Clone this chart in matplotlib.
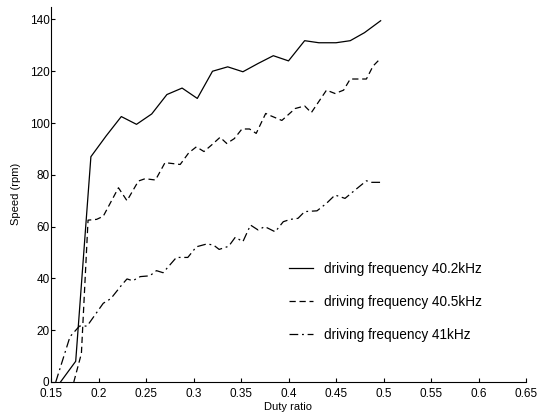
import matplotlib
matplotlib.use("Agg")
import matplotlib.pyplot as plt

plt.rcParams["font.family"] = ["Liberation Sans", "DejaVu Sans"]

# 40.2 kHz
duty_402 = [0.16, 0.176, 0.192, 0.208, 0.224, 0.24, 0.256, 0.272, 0.288, 0.304, 0.32,
            0.336, 0.352, 0.368, 0.384, 0.40, 0.417, 0.432, 0.45, 0.465, 0.48, 0.497]
speed_402 = [0, 8, 87, 95, 102.5, 99.5, 103.5, 111, 113.5, 109.5, 120,
             121.7, 119.8, 123, 126, 124, 131.8, 131, 131, 131.8, 134.9, 139.5]

# 40.5 kHz
duty_405 = [0.174, 0.182, 0.189, 0.198, 0.205, 0.221, 0.23, 0.242, 0.249, 0.26, 0.27,
            0.286, 0.295, 0.303, 0.311, 0.319, 0.328, 0.335, 0.343, 0.351, 0.359, 0.366,
            0.376, 0.38, 0.393, 0.407, 0.417, 0.424, 0.44, 0.449, 0.458, 0.465, 0.482,
            0.489, 0.497]
speed_405 = [0, 11, 62.5, 62.8, 64, 75, 70, 77.6, 78.5, 78, 84.7,
             84, 88.5, 90.8, 89, 91.5, 94.5, 92.1, 94, 97.7, 97.7, 96,
             103.7, 103, 101, 105.6, 106.6, 104, 112.7, 111.4, 112.7, 117, 117,
             122, 125]

# 41 kHz
duty_41 = [0.155, 0.17, 0.18, 0.188, 0.205, 0.213, 0.2245, 0.23, 0.236, 0.244, 0.254,
           0.261, 0.268, 0.282, 0.294, 0.303, 0.314, 0.321, 0.327, 0.337, 0.344, 0.352,
           0.36, 0.368, 0.375, 0.386, 0.3945, 0.402, 0.41, 0.417, 0.43, 0.44, 0.449,
           0.4595, 0.468, 0.482, 0.4876, 0.5]
speed_41 = [0, 17.5, 21.6, 21.6, 30.4, 32.2, 37.5, 39.8, 39.1, 40.7, 41,
            43, 42.2, 48.1, 48.1, 52.2, 53.3, 52.9, 51.2, 52.4, 55.9, 54.2,
            60.6, 58.7, 60, 58, 61.9, 62.8, 63.2, 65.8, 66.1, 69, 72.2,
            70.9, 73.5, 77.7, 77.1, 77.1]

labels = ["driving frequency 40.2kHz", "driving frequency 40.5kHz", "driving frequency 41kHz"]
xticks = [0.15, 0.2, 0.25, 0.3, 0.35, 0.4, 0.45, 0.5, 0.55, 0.6, 0.65]
yticks = [0, 20, 40, 60, 80, 100, 120, 140]

fig = plt.figure(figsize=(5.39, 4.12), dpi=100)
ax = fig.add_axes([51 / 539, 30 / 412, 475 / 539, 375.5 / 412])

ax.plot(duty_402, speed_402, color="black", lw=0.9, ls="-", label=labels[0])
ax.plot(duty_405, speed_405, color="black", lw=0.9, ls=(0, (5, 3)), label=labels[1])
ax.plot(duty_41, speed_41, color="black", lw=0.9, ls=(0, (7, 3, 1.5, 3)), label=labels[2])

ax.set_xlim(0.15, 0.65)
ax.set_ylim(0, 145)
ax.set_xticks(xticks)
ax.set_xticklabels([str(t) for t in xticks])
ax.set_yticks(yticks)

ax.spines["top"].set_visible(False)
ax.spines["right"].set_visible(False)
ax.spines["left"].set_linewidth(0.8)
ax.spines["bottom"].set_linewidth(0.8)
ax.tick_params(direction="in", length=3, width=0.8, labelsize=8.5)
ax.tick_params(axis="x", pad=4.5)
ax.tick_params(axis="y", pad=1)

ax.set_xlabel("Duty ratio", fontsize=8, labelpad=1)
ax.set_ylabel("Speed (rpm)", fontsize=8, labelpad=6)

ax.legend(loc="center left", bbox_to_anchor=(0.501, 0.213), frameon=False,
          fontsize=9.8, handlelength=1.8, handletextpad=0.8, labelspacing=1.4,
          borderpad=0, borderaxespad=0)

fig.savefig("out.png", dpi=100)
